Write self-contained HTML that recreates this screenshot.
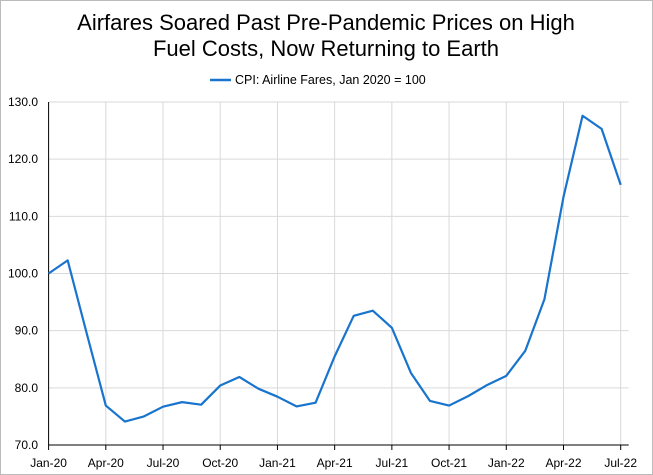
<!DOCTYPE html>
<html><head><meta charset="utf-8"><style>
html,body{margin:0;padding:0;background:#fff}
svg{display:block;font-family:"Liberation Sans",sans-serif}
</style></head><body>
<svg id="chart" width="653" height="475">
<rect x="0.5" y="0.5" width="652" height="474" fill="#fff" stroke="#bbb"/>
<text x="326" y="30" text-anchor="middle" font-size="22" fill="#000">Airfares Soared Past Pre-Pandemic Prices on High</text>
<text x="326" y="56" text-anchor="middle" font-size="22" fill="#000">Fuel Costs, Now Returning to Earth</text>
<g>
<line x1="210" y1="80" x2="231" y2="80" stroke="#1874cd" stroke-width="2.5"/>
<text x="235" y="84" font-size="12.5" fill="#000">CPI: Airline Fares, Jan 2020 = 100</text>
</g>
<g id="grid"></g><g id="axes"></g><g id="series"></g>
</svg>
<script>
const months = ["Jan-20","Feb-20","Mar-20","Apr-20","May-20","Jun-20","Jul-20","Aug-20","Sep-20","Oct-20","Nov-20","Dec-20","Jan-21","Feb-21","Mar-21","Apr-21","May-21","Jun-21","Jul-21","Aug-21","Sep-21","Oct-21","Nov-21","Dec-21","Jan-22","Feb-22","Mar-22","Apr-22","May-22","Jun-22","Jul-22"];
const values = [100,102.3,89.5,76.9,74.1,75.0,76.7,77.5,77.05,80.4,81.9,79.85,78.45,76.75,77.4,85.5,92.6,93.5,90.5,82.6,77.7,76.9,78.55,80.5,82.1,86.5,95.5,113.4,127.6,125.3,115.5];
const yTicks = [70,80,90,100,110,120,130];
const xTickLabels = ["Jan-20","Apr-20","Jul-20","Oct-20","Jan-21","Apr-21","Jul-21","Oct-21","Jan-22","Apr-22","Jul-22"];

const NS="http://www.w3.org/2000/svg";
const L=48.6,R=620.7,T=102,B=445,yMin=70,yMax=130;
const x=i=>L+(R-L)*i/(months.length-1);
const y=v=>B-(B-T)*(v-yMin)/(yMax-yMin);
function mk(tag,attrs,parent){const e=document.createElementNS(NS,tag);for(const k in attrs)e.setAttribute(k,attrs[k]);parent.appendChild(e);return e;}
const grid=document.getElementById('grid'),axes=document.getElementById('axes'),series=document.getElementById('series');
yTicks.forEach(t=>{
  if(t>yMin){const g=mk('line',{x1:L,x2:R+8,y1:y(t),y2:y(t),stroke:'#d9d9d9','stroke-width':1},grid);
  
  }
  const tx=mk('text',{x:38,y:y(t)+4,'text-anchor':'end','font-size':12,fill:'#000'},axes);
  tx.textContent=t.toFixed(1);
  
  
});
xTickLabels.forEach(lbl=>{
  const i=months.indexOf(lbl);
  if(i>0){const g=mk('line',{x1:x(i),x2:x(i),y1:T,y2:B,stroke:'#d9d9d9','stroke-width':1},grid);
  
  }
  const tk=mk('line',{x1:x(i),x2:x(i),y1:B,y2:B+5,stroke:'#000'},axes);
  
  
  const tx=mk('text',{x:x(i),y:B+22,'text-anchor':'middle','font-size':12,fill:'#000'},axes);
  tx.textContent=lbl;
  
  
});
const ya=mk('line',{x1:L,x2:L,y1:T,y2:B,stroke:'#000'},axes);


const xa=mk('line',{x1:L,x2:R+8,y1:B,y2:B,stroke:'#000'},axes);


const p=mk('polyline',{points:values.map((v,i)=>x(i)+','+y(v)).join(' '),fill:'none',stroke:'#1874cd','stroke-width':2.2,'stroke-linejoin':'round'},series);


</script>
</body></html>
